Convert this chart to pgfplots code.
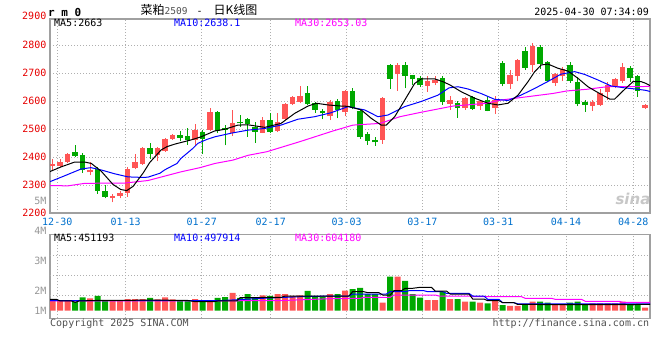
\documentclass[border=0pt]{standalone}
\usepackage{fontspec}
\setmainfont{DejaVu Sans Mono}
\newfontfamily\cjk{Noto Sans CJK SC}
\newfontfamily\sansf{DejaVu Sans}
\usepackage{pgfplots}
\usepackage{pgfplotstable}
\pgfplotsset{compat=1.18}
\definecolor{cred}{RGB}{255,85,85}
\definecolor{cgreen}{RGB}{0,168,0}
\definecolor{tickred}{RGB}{230,0,0}
\definecolor{dateblue}{RGB}{0,112,204}
\definecolor{lblgrey}{RGB}{150,150,150}
\definecolor{framegrey}{RGB}{160,160,160}
\definecolor{gridgrey}{RGB}{175,175,175}
\definecolor{ma10c}{RGB}{0,0,255}
\definecolor{ma30c}{RGB}{255,0,255}
\definecolor{txtgrey}{RGB}{80,80,80}

\pgfplotstableread{
i O H L C
0 2368 2393 2355 2375
1 2368 2392 2365 2382
2 2383 2413 2380 2410
5 2345 2381 2334 2355
8 2252 2267 2238 2261
9 2262 2280 2252 2270
10 2270 2363 2258 2357
11 2360 2410 2356 2382
12 2375 2437 2372 2432
14 2407 2437 2384 2433
15 2422 2469 2419 2465
16 2466 2483 2462 2478
19 2461 2518 2441 2496
21 2497 2576 2494 2562
24 2485 2568 2475 2522
28 2487 2544 2485 2532
30 2493 2558 2490 2524
31 2535 2592 2532 2589
32 2589 2618 2585 2615
33 2598 2652 2592 2618
37 2545 2602 2532 2598
39 2560 2640 2545 2636
44 2462 2614 2448 2610
46 2695 2736 2637 2730
50 2654 2688 2633 2672
51 2664 2690 2657 2676
53 2590 2617 2568 2602
55 2575 2616 2568 2612
57 2581 2604 2569 2601
59 2575 2618 2554 2603
61 2662 2712 2644 2693
62 2688 2750 2670 2746
64 2727 2806 2703 2796
67 2665 2700 2655 2695
68 2688 2721 2673 2715
72 2583 2605 2565 2596
73 2586 2643 2583 2627
74 2632 2667 2605 2657
75 2655 2684 2645 2678
76 2670 2737 2666 2720
79 2575 2591 2572 2585
}\redc

\pgfplotstableread{
i O H L C
3 2418 2444 2400 2404
4 2407 2415 2344 2352
6 2357 2364 2269 2280
7 2280 2300 2252 2258
13 2432 2450 2393 2410
17 2479 2493 2457 2469
18 2475 2503 2443 2460
20 2488 2496 2412 2466
22 2560 2563 2485 2493
23 2502 2514 2442 2495
25 2524 2550 2508 2520
26 2536 2538 2473 2518
27 2506 2526 2451 2490
29 2532 2556 2485 2489
34 2630 2655 2585 2590
35 2592 2596 2558 2568
36 2565 2570 2534 2556
38 2600 2606 2538 2568
40 2637 2646 2570 2576
41 2566 2569 2465 2473
42 2481 2490 2443 2458
43 2462 2472 2440 2452
45 2729 2731 2643 2680
47 2730 2740 2645 2690
48 2692 2694 2658 2677
49 2684 2688 2650 2656
52 2684 2689 2587 2595
54 2594 2599 2541 2575
56 2615 2619 2568 2572
58 2603 2619 2563 2566
60 2737 2742 2652 2662
63 2778 2794 2712 2719
65 2792 2799 2714 2732
66 2740 2742 2668 2671
69 2729 2738 2665 2670
70 2669 2685 2582 2590
71 2597 2602 2562 2584
77 2717 2724 2669 2681
78 2689 2693 2615 2637
}\greenc

\pgfplotstableread{
x y
-0.36 2348
1.15 2365
2.93 2382
4.27 2382
5.15 2377
6.48 2349
8.04 2302
9.07 2284
9.87 2280
10.71 2295
12.04 2342
12.93 2380
14.44 2425
15.24 2437
16.27 2446
18.44 2461
19.77 2472
21.6 2493
22.93 2499
24.7 2514
26.04 2515
28.27 2506
30.44 2520
32.27 2556
34.04 2582
35.15 2592
36.71 2586
38.44 2582
39.37 2581
41.15 2568
42.48 2538
43.81 2514
44.48 2514
45.6 2544
46.93 2603
48.27 2663
49.15 2679
50.93 2679
52.04 2669
52.93 2658
54.48 2633
56.27 2610
58.04 2592
59.37 2586
60.71 2592
62.04 2621
63.37 2669
64.27 2705
65.15 2729
66.04 2732
67.37 2717
68.71 2707
70.04 2681
71.37 2651
72.71 2630
74.27 2607
74.93 2607
76.27 2642
77.37 2669
78.48 2669
79.1 2663
79.64 2655
}\maA

\pgfplotstableread{
x y
-0.36 2312
1.6 2333
3.77 2357
5.1 2362
6.44 2354
8.27 2340
10.04 2329
12.04 2327
12.7 2328
14.3 2342
14.93 2354
16.57 2377
17.1 2395
18.7 2431
19.37 2449
20.57 2463
21.6 2472
23.77 2485
26.04 2496
28.27 2502
30.44 2514
32.7 2535
34.93 2544
37.1 2558
39.37 2580
41.6 2568
43.37 2544
44.7 2550
46.93 2580
49.1 2598
51.37 2621
52.84 2647
54.04 2651
55.37 2643
57.1 2627
58.93 2606
60.71 2602
62.44 2621
64.27 2645
66.04 2670
67.77 2696
69.6 2705
70.93 2695
72.71 2675
74.44 2654
76.27 2647
78.04 2642
79.1 2638
79.64 2634
}\maB

\pgfplotstableread{
x y
-0.36 2298
2.04 2297
4.3 2306
9.64 2307
12.7 2316
17.1 2347
19.64 2362
21.64 2377
24.04 2389
26.04 2406
28.57 2419
32.97 2455
37.37 2493
40.04 2514
43.64 2520
46.3 2544
48.97 2559
53.37 2582
57.9 2592
59.64 2603
62.3 2612
66.7 2627
68.57 2636
71.24 2642
73.9 2651
79.64 2652
}\maC

\pgfplotstableread{
i V
0 770
1 720
2 700
5 885
8 770
9 720
10 840
11 840
12 840
14 815
15 960
16 815
19 840
21 700
24 1275
28 1100
30 1200
31 1200
32 1060
33 1100
37 1200
39 1440
44 575
46 2450
50 770
51 770
53 840
55 650
57 575
59 700
61 340
62 340
64 650
67 410
68 410
72 525
73 525
74 525
75 525
76 650
79 215
}\redv

\pgfplotstableread{
i V
3 650
4 960
6 1060
7 740
13 915
17 720
18 720
20 670
22 915
23 985
25 915
26 1200
27 935
29 1060
34 1420
35 1060
36 1010
38 1200
40 1560
41 1635
42 1200
43 1200
45 2450
47 2140
48 1200
49 935
52 1370
54 840
56 650
58 525
60 410
63 410
65 650
66 575
69 575
70 650
71 410
77 480
78 480
}\greenv

\pgfplotstableread{
x y
-0.36 820
0.5 820
1 700
2.5 700
3 600
3.5 700
6 740
10 750
14 760
18 740
19 650
21.5 650
22 700
24.5 700
25 936
27.5 936
28 964
30.5 964
31 1058
39.5 1058
40 1368
41.5 1368
42 1296
43.5 1296
44 1130
45 1130
45.5 1440
46.5 1440
47 1613
48 1613
49 1685
50.5 1685
51 1418
52.5 1418
53 1202
55.5 1202
56 842
57.5 842
58 720
59.5 720
60 576
61.5 576
62 450
70 440
75 440
79.64 451
}\vmaA

\pgfplotstableread{
x y
-0.36 720
19 720
22 720
25 800
28 893
33 1008
37 1058
39.5 1058
40 1202
44.5 1202
45 1368
47 1368
47.5 1440
49.5 1440
50 1368
52 1368
52.5 1250
55.5 1250
56 1058
57.5 1058
58 818
59.5 818
60 576
61.5 576
62 500
68 490
79.64 498
}\vmaB

\pgfplotstableread{
x y
-0.36 700
30 720
37 864
41 893
41.5 965
45 965
45.5 1130
51 1130
51.5 1058
55.5 1058
56 1010
62.5 1010
63 893
66.5 893
67 821
70.5 821
71 680
75.5 680
76 604
79.64 604
}\vmaC

\begin{document}
\begin{tikzpicture}[font=\fontsize{10bp}{12bp}\selectfont]
\path[use as bounding box] (0,0) rectangle (660bp,360bp);
\pgfplotsset{
  kstyle/.style={
    scale only axis, width=600bp, anchor=south west,
    xmin=-0.36, xmax=79.64,
    axis line style={draw=framegrey, line width=1.3bp},
    major tick length=0pt,
    grid style={draw=gridgrey, line width=0.8bp, dash pattern=on 1bp off 2bp},
    tick label style={font=\fontsize{10bp}{12bp}\selectfont},
    xtick={0.61,9.73,19.87,29.07,39.2,49.28,59.41,68.44,77.41},
    xmajorgrids=true,
  },
  errk/.style n args={2}{draw=none, mark=none, forget plot,
    error bars/.cd, y dir=plus, y explicit, error mark=none,
    error bar style={draw=#1, line width=#2}},
}
% ---------------- price panel
\begin{axis}[kstyle, at={(50bp,147bp)}, height=194bp,
  ymin=2200, ymax=2893,
  ytick={2200,2300,2400,2500,2600,2700,2800},
  yticklabels={2200,2300,2400,2500,2600,2700,2800},
  ymajorgrids=true,
  yticklabel style={text=tickred},
  xticklabels={12-30,01-13,01-27,02-17,03-03,03-17,03-31,04-14,04-28},
  xticklabel style={text=dateblue, yshift=-1.5bp},
]
\addplot[errk={cred}{1bp}] table[x=i, y=L, y error plus expr=\thisrow{H}-\thisrow{L}] {\redc};
\addplot[errk={cgreen}{1bp}] table[x=i, y=L, y error plus expr=\thisrow{H}-\thisrow{L}] {\greenc};
\addplot[errk={cred}{5.5bp}] table[x=i, y=O, y error plus expr=\thisrow{C}-\thisrow{O}] {\redc};
\addplot[errk={cgreen}{5.5bp}] table[x=i, y=C, y error plus expr=\thisrow{O}-\thisrow{C}] {\greenc};
\addplot[ma30c, line width=1bp] table[x=x,y=y] {\maC};
\addplot[ma10c, line width=1bp] table[x=x,y=y] {\maB};
\addplot[black, line width=1bp] table[x=x,y=y] {\maA};
\end{axis}
% ---------------- volume panel
\begin{axis}[kstyle, at={(50bp,41.7bp)}, height=84bp,
  ymin=-547, ymax=5501,
  ytick={0,1440,3600}, yticklabels={1M,2M,3M},
  yticklabel style={text=lblgrey},
  xticklabels={},
  extra y ticks={1130,2570,4010}, extra y tick labels={},
  extra y tick style={ymajorgrids=true},
]
\addplot[ybar, bar width=6bp, bar shift=0pt, fill=cred, draw=none] table[x=i,y=V] {\redv};
\addplot[ybar, bar width=6bp, bar shift=0pt, fill=cgreen, draw=none] table[x=i,y=V] {\greenv};
\addplot[ma30c, line width=1bp] table[x=x,y=y] {\vmaC};
\addplot[ma10c, line width=1bp] table[x=x,y=y] {\vmaB};
\addplot[black, line width=1bp] table[x=x,y=y] {\vmaA};
\end{axis}
% ---------------- texts
\node[anchor=west, inner sep=0, font=\fontsize{11bp}{13bp}\selectfont\bfseries] at (48bp,348bp) {r m 0};
\node[anchor=west, inner sep=0] at (140.5bp,350bp) {{\cjk\fontsize{12bp}{14bp}\selectfont 菜粕}{\fontsize{9.5bp}{12bp}\selectfont\color{txtgrey}2509}\hspace{9bp}-\hspace{11bp}{\cjk\fontsize{12bp}{14bp}\selectfont 日K线图}};
\node[anchor=east, inner sep=0] at (649bp,348bp) {2025-04-30 07:34:09};
\node[anchor=east, inner sep=0, text=tickred] at (46.5bp,344bp) {2900};
\node[anchor=west, inner sep=0] at (54bp,336.7bp) {MA5:2663};
\node[anchor=west, inner sep=0, text=ma10c] at (174bp,336.7bp) {MA10:2638.1};
\node[anchor=west, inner sep=0, text=ma30c] at (295bp,336.7bp) {MA30:2653.03};
\node[anchor=east, inner sep=0, text=lblgrey] at (46.5bp,159.3bp) {5M};
\node[anchor=east, inner sep=0, text=lblgrey] at (46.5bp,129.5bp) {4M};
\node[anchor=west, inner sep=0] at (54bp,121.7bp) {MA5:451193};
\node[anchor=west, inner sep=0, text=ma10c] at (174bp,121.7bp) {MA10:497914};
\node[anchor=west, inner sep=0, text=ma30c] at (295bp,121.7bp) {MA30:604180};
\node[anchor=west, inner sep=0, text=txtgrey] at (50bp,36.7bp) {Copyright 2025 SINA.COM};
\node[anchor=east, inner sep=0, text=txtgrey] at (649.3bp,36.7bp) {http://finance.sina.com.cn};
\node[anchor=center, inner sep=0, text=black!22, font=\sansf\fontsize{15bp}{16bp}\selectfont\bfseries\itshape] at (633bp,161bp) {sina};
\end{tikzpicture}
\end{document}
